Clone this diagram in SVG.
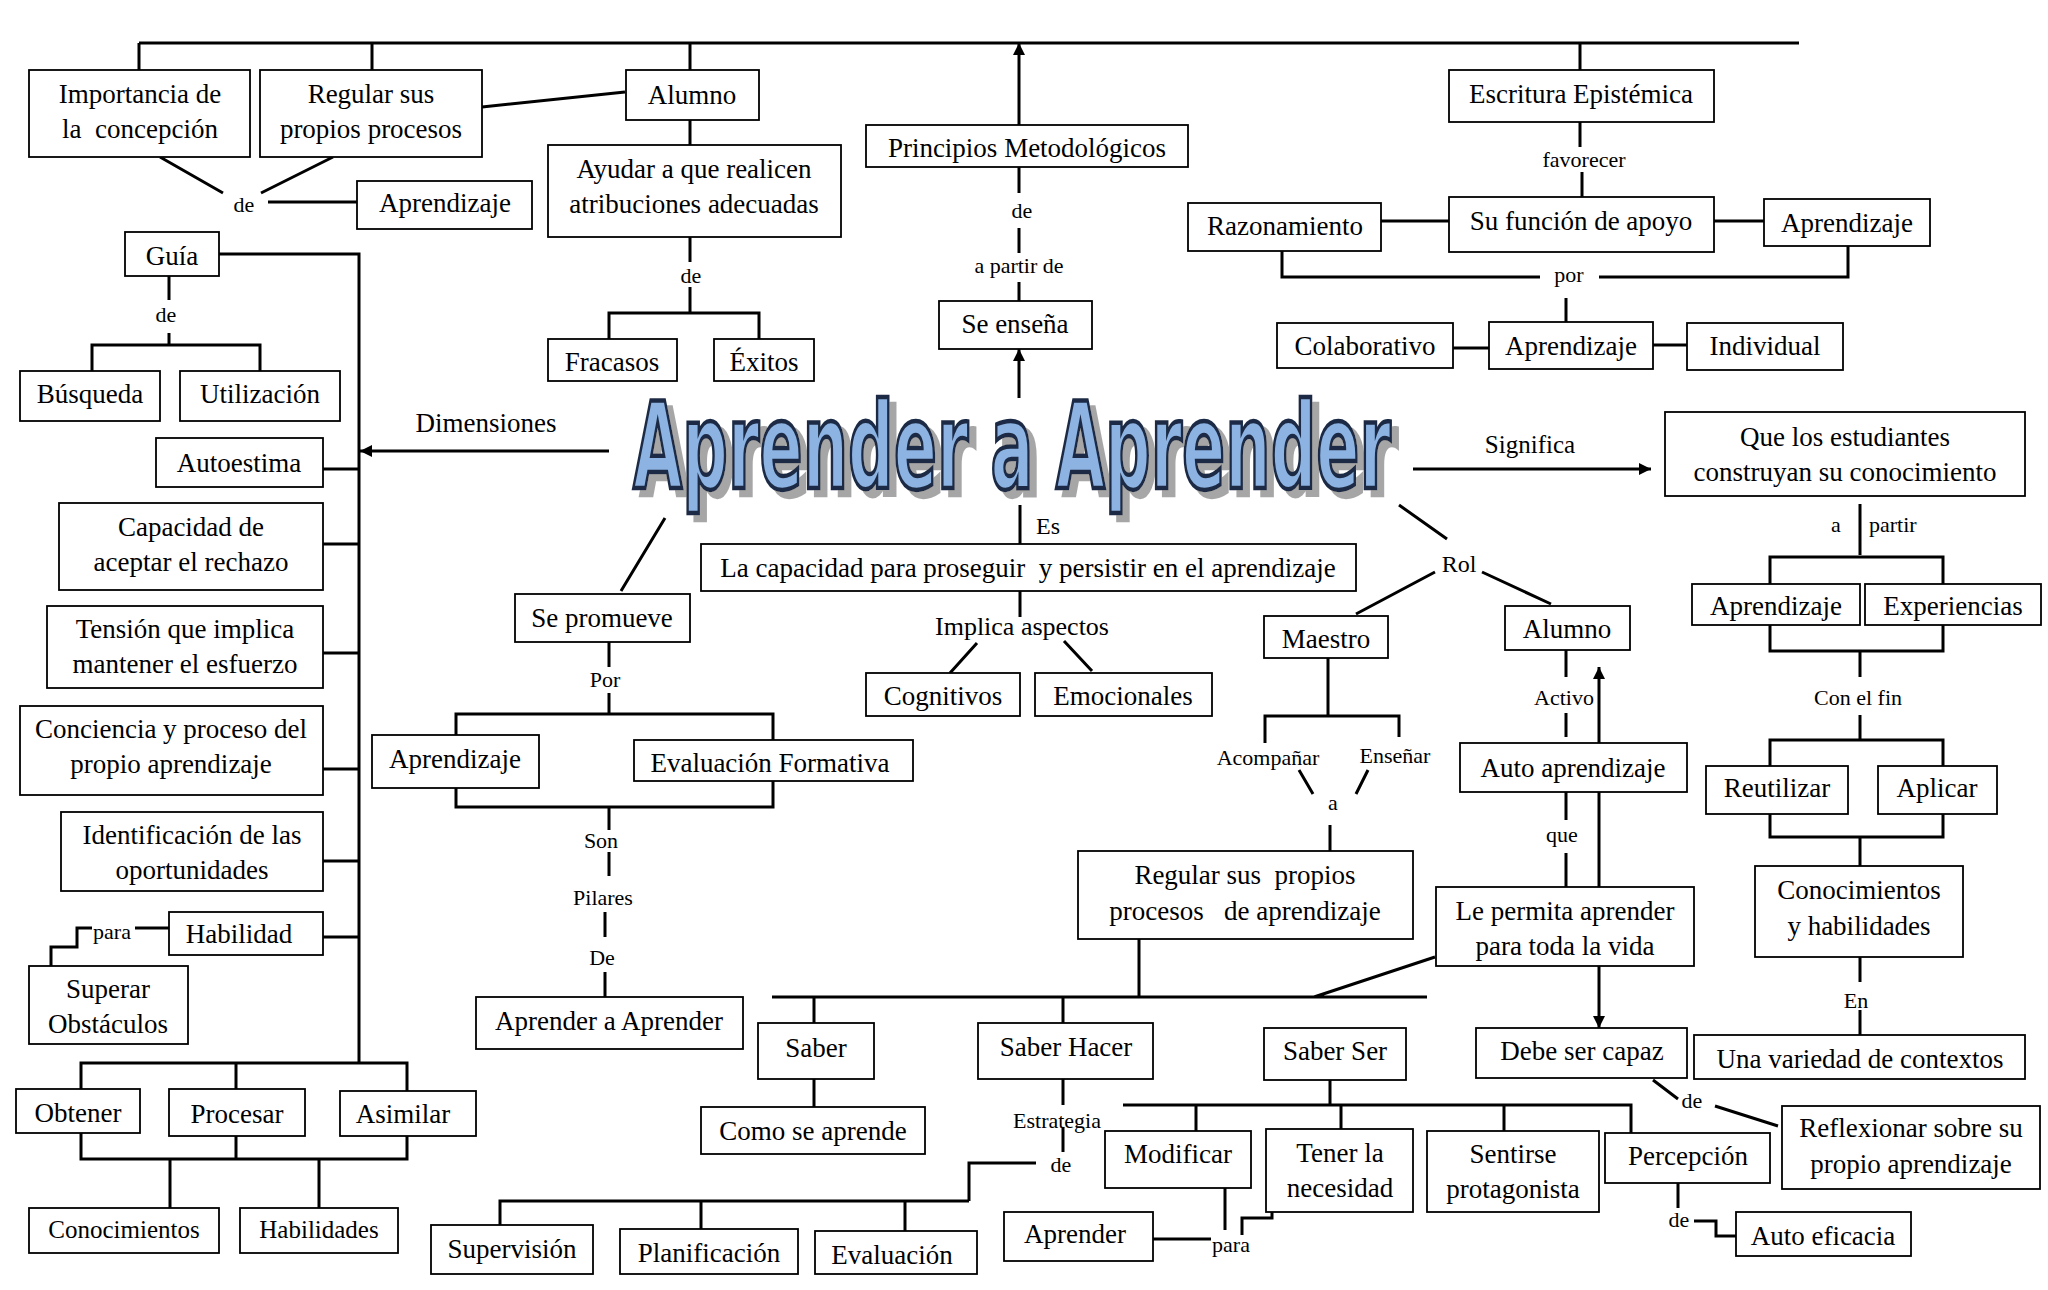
<svg xmlns="http://www.w3.org/2000/svg" width="2048" height="1290" viewBox="0 0 2048 1290">
<style>
.box{fill:#fff;stroke:#000;stroke-width:1.8}
.t{font-family:"Liberation Serif","Times New Roman",serif;font-size:27px;text-anchor:middle;fill:#000}
.s{font-size:25px}
.l{font-family:"Liberation Serif","Times New Roman",serif;font-size:22px;text-anchor:middle;fill:#000}
.c path{fill:none;stroke:#000;stroke-width:3}
.title{font-family:"DejaVu Sans","Liberation Sans",sans-serif;font-weight:bold;font-size:120px;fill:#8DB3E2;stroke:#1a2a44;stroke-width:4.5}
</style>
<defs>
<marker id="arr" viewBox="0 0 10 10" refX="10" refY="5" markerUnits="userSpaceOnUse" markerWidth="13" markerHeight="12" orient="auto">
<path d="M0,0 L10,5 L0,10 z" fill="#000"/>
</marker>
<filter id="shadow" x="-5%" y="-20%" width="115%" height="150%">
<feFlood flood-color="#A6A6A6" result="f"/>
<feComposite in="f" in2="SourceAlpha" operator="in" result="s"/>
<feOffset in="s" dx="7" dy="7" result="o"/>
<feMerge><feMergeNode in="o"/><feMergeNode in="SourceGraphic"/></feMerge>
</filter>
</defs>
<rect width="2048" height="1290" fill="#fff"/>

<g id="connectors" class="c">
<path d="M139,43 H1799 M139,43 V70 M372,43 V70 M690,43 V70 M1580,43 V70"/>
<path d="M1019,125 V43" marker-end="url(#arr)"/>
<path d="M482,107 L625,92"/>
<path d="M160,157 L223,193 M333,157 L261,193 M268,202 H357"/>
<path d="M690,120 V145 M690,237 V262 M690,287 V313 M609,339 V313 H759 V339"/>
<path d="M1019,167 V193 M1019,228 V253 M1019,282 V301"/>
<path d="M1019,398 V349" marker-end="url(#arr)"/>
<path d="M1580,122 V147 M1582,172 V197"/>
<path d="M1381,221 H1449 M1714,221 H1764"/>
<path d="M1282,251 V277 H1540 M1599,277 H1848 V246 M1566,298 V322"/>
<path d="M1453,348 H1489 M1653,345 H1687"/>
<path d="M219,254 H359 V1063 M81,1090 V1063 H407 V1091 M236,1063 V1089"/>
<path d="M169,276 V300 M169,333 V345 M92,371 V345 H260 V371"/>
<path d="M323,469 H359 M323,544 H359 M323,653 H359 M323,769 H359 M323,861 H359 M323,937 H359"/>
<path d="M169,928 H135 M92,928 H77 V947 H51 V966"/>
<path d="M81,1133 V1159 H407 V1136 M236,1136 V1159 M170,1159 V1208 M319,1159 V1208"/>
<path d="M609,451 H360" marker-end="url(#arr)"/>
<path d="M665,518 L621,591 M609,642 V667 M609,693 V714 M456,735 V714 H773 V740 M456,788 V807 H773 V781"/>
<path d="M609,807 V830 M609,852 V876 M605,912 V937 M605,972 V997"/>
<path d="M1020,505 V544 M1020,591 V617 M977,643 L950,673 M1064,641 L1092,671"/>
<path d="M1399,505 L1447,539 M1435,572 L1356,614 M1482,572 L1551,604"/>
<path d="M1328,658 V716 M1265,743 V716 H1399 V737 M1299,770 L1313,794 M1368,770 L1356,794 M1330,825 V851"/>
<path d="M1139,939 V997 M772,997 H1427 M814,997 V1023 M1063,997 V1023 M1435,957 L1314,997"/>
<path d="M814,1079 V1107"/>
<path d="M1063,1079 V1105 M1063,1127 V1152 M1036,1163 H969 V1201 M500,1225 V1201 H969 M701,1201 V1229 M905,1201 V1231"/>
<path d="M1330,1080 V1105 M1123,1105 H1631 V1133 M1196,1105 V1131 M1341,1105 V1129 M1504,1105 V1131"/>
<path d="M1153,1239 H1211 M1225,1188 V1230 M1272,1200 V1218 H1242 V1235"/>
<path d="M1678,1183 V1208 M1694,1221 H1716 V1236 H1736"/>
<path d="M1653,1080 L1678,1099 M1715,1106 L1778,1126"/>
<path d="M1599,966 V1028" marker-end="url(#arr)"/>
<path d="M1566,650 V677 M1566,713 V737 M1566,792 V820 M1566,853 V887"/>
<path d="M1599,887 V667" marker-end="url(#arr)"/>
<path d="M1413,469 H1651" marker-end="url(#arr)"/>
<path d="M1860,504 V555 M1770,584 V557 H1943 V584 M1770,625 V651 H1943 V625 M1860,651 V677 M1860,715 V740"/>
<path d="M1770,766 V740 H1943 V766 M1770,814 V837 H1943 V814 M1860,837 V866 M1860,957 V982 M1860,1010 V1035"/>
</g>

<g id="labels">
<text class="l" x="244" y="212">de</text>
<text class="l" x="166" y="322">de</text>
<text class="t" x="486" y="432">Dimensiones</text>
<text class="l" x="691" y="283">de</text>
<text class="l" x="1022" y="218">de</text>
<text class="l" x="1019" y="273">a partir de</text>
<text class="l" x="1584" y="167">favorecer</text>
<text class="l" x="1569" y="282">por</text>
<text class="t" x="1048" y="534" style="font-size:24px">Es</text>
<text class="t" x="1022" y="635" style="font-size:26px">Implica aspectos</text>
<text class="t" x="1530" y="453" style="font-size:25px">Significa</text>
<text class="t" x="1459" y="572" style="font-size:24px">Rol</text>
<text class="l" x="605" y="687">Por</text>
<text class="l" x="601" y="848">Son</text>
<text class="l" x="603" y="905">Pilares</text>
<text class="l" x="602" y="965">De</text>
<text class="l" x="112" y="939">para</text>
<text class="l" x="1268" y="765">Acompañar</text>
<text class="l" x="1395" y="763">Enseñar</text>
<text class="l" x="1333" y="810">a</text>
<text class="l" x="1564" y="705">Activo</text>
<text class="l" x="1562" y="842">que</text>
<text class="l" x="1836" y="532">a</text>
<text class="l" x="1869" y="532" style="text-anchor:start">partir</text>
<text class="l" x="1858" y="705">Con el fin</text>
<text class="l" x="1856" y="1008">En</text>
<text class="l" x="1057" y="1128">Estrategia</text>
<text class="l" x="1061" y="1172">de</text>
<text class="l" x="1231" y="1252">para</text>
<text class="l" x="1692" y="1108">de</text>
<text class="l" x="1679" y="1227">de</text>
</g>

<g id="title" filter="url(#shadow)">
<text class="title" transform="translate(633,488) scale(0.538,1)" x="0" y="0" textLength="1409" lengthAdjust="spacingAndGlyphs">Aprender a Aprender</text>
</g>

<g id="n-importancia"><rect class="box" x="29" y="70" width="221" height="87"/><text class="t" x="140" y="103">Importancia de</text><text class="t" x="140" y="138" xml:space="preserve">la  concepción</text></g>
<g id="n-regular1"><rect class="box" x="260" y="70" width="222" height="87"/><text class="t" x="371" y="103">Regular sus</text><text class="t" x="371" y="138">propios procesos</text></g>
<g id="n-alumno1"><rect class="box" x="626" y="70" width="133" height="50"/><text class="t" x="692" y="104">Alumno</text></g>
<g id="n-aprendizaje1"><rect class="box" x="357" y="181" width="175" height="48"/><text class="t" x="445" y="212">Aprendizaje</text></g>
<g id="n-ayudar"><rect class="box" x="548" y="145" width="293" height="92"/><text class="t" x="694" y="178">Ayudar a que realicen</text><text class="t" x="694" y="213">atribuciones adecuadas</text></g>
<g id="n-fracasos"><rect class="box" x="548" y="339" width="129" height="42"/><text class="t" x="612" y="371">Fracasos</text></g>
<g id="n-exitos"><rect class="box" x="714" y="339" width="100" height="42"/><text class="t" x="764" y="371">Éxitos</text></g>
<g id="n-principios"><rect class="box" x="866" y="125" width="322" height="42"/><text class="t" x="1027" y="157">Principios Metodológicos</text></g>
<g id="n-seensena"><rect class="box" x="939" y="301" width="153" height="48"/><text class="t" x="1015" y="333">Se enseña</text></g>
<g id="n-escritura"><rect class="box" x="1449" y="70" width="265" height="52"/><text class="t" x="1581" y="103">Escritura Epistémica</text></g>
<g id="n-sufuncion"><rect class="box" x="1449" y="197" width="265" height="55"/><text class="t" x="1581" y="230">Su función de apoyo</text></g>
<g id="n-razonamiento"><rect class="box" x="1188" y="203" width="193" height="48"/><text class="t" x="1285" y="235">Razonamiento</text></g>
<g id="n-aprendizaje2"><rect class="box" x="1764" y="199" width="166" height="47"/><text class="t" x="1847" y="232">Aprendizaje</text></g>
<g id="n-colaborativo"><rect class="box" x="1277" y="323" width="176" height="45"/><text class="t" x="1365" y="355">Colaborativo</text></g>
<g id="n-aprendizaje3"><rect class="box" x="1489" y="322" width="164" height="47"/><text class="t" x="1571" y="355">Aprendizaje</text></g>
<g id="n-individual"><rect class="box" x="1687" y="323" width="156" height="47"/><text class="t" x="1765" y="355">Individual</text></g>
<g id="n-guia"><rect class="box" x="125" y="232" width="94" height="44"/><text class="t" x="172" y="265">Guía</text></g>
<g id="n-busqueda"><rect class="box" x="20" y="371" width="140" height="50"/><text class="t" x="90" y="403">Búsqueda</text></g>
<g id="n-utilizacion"><rect class="box" x="180" y="371" width="160" height="50"/><text class="t" x="260" y="403">Utilización</text></g>
<g id="n-autoestima"><rect class="box" x="156" y="438" width="167" height="49"/><text class="t" x="239" y="472">Autoestima</text></g>
<g id="n-capacidad"><rect class="box" x="59" y="503" width="264" height="87"/><text class="t" x="191" y="536">Capacidad de</text><text class="t" x="191" y="571">aceptar el rechazo</text></g>
<g id="n-tension"><rect class="box" x="47" y="606" width="276" height="82"/><text class="t" x="185" y="638">Tensión que implica</text><text class="t" x="185" y="673">mantener el esfuerzo</text></g>
<g id="n-conciencia"><rect class="box" x="20" y="706" width="303" height="89"/><text class="t" x="171" y="738">Conciencia y proceso del</text><text class="t" x="171" y="773">propio aprendizaje</text></g>
<g id="n-identificacion"><rect class="box" x="61" y="812" width="262" height="79"/><text class="t" x="192" y="844">Identificación de las</text><text class="t" x="192" y="879">oportunidades</text></g>
<g id="n-habilidad"><rect class="box" x="169" y="912" width="154" height="43"/><text class="t" x="239" y="943">Habilidad</text></g>
<g id="n-superar"><rect class="box" x="29" y="966" width="159" height="78"/><text class="t" x="108" y="998">Superar</text><text class="t" x="108" y="1033">Obstáculos</text></g>
<g id="n-obtener"><rect class="box" x="16" y="1089" width="124" height="44"/><text class="t" x="78" y="1122">Obtener</text></g>
<g id="n-procesar"><rect class="box" x="169" y="1089" width="136" height="47"/><text class="t" x="237" y="1123">Procesar</text></g>
<g id="n-asimilar"><rect class="box" x="340" y="1091" width="136" height="45"/><text class="t" x="403" y="1123">Asimilar</text></g>
<g id="n-conocimientos1"><rect class="box" x="29" y="1208" width="190" height="45"/><text class="t s" x="124" y="1238">Conocimientos</text></g>
<g id="n-habilidades"><rect class="box" x="240" y="1208" width="158" height="45"/><text class="t s" x="319" y="1238">Habilidades</text></g>
<g id="n-sepromueve"><rect class="box" x="515" y="594" width="175" height="48"/><text class="t" x="602" y="627">Se promueve</text></g>
<g id="n-aprendizaje4"><rect class="box" x="372" y="735" width="167" height="53"/><text class="t" x="455" y="768">Aprendizaje</text></g>
<g id="n-evaluacionf"><rect class="box" x="634" y="740" width="279" height="41"/><text class="t" x="770" y="772">Evaluación Formativa</text></g>
<g id="n-aaa"><rect class="box" x="476" y="997" width="267" height="52"/><text class="t" x="609" y="1030">Aprender a Aprender</text></g>
<g id="n-lacapacidad"><rect class="box" x="701" y="544" width="655" height="47"/><text class="t" x="1028" y="577" xml:space="preserve">La capacidad para proseguir  y persistir en el aprendizaje</text></g>
<g id="n-cognitivos"><rect class="box" x="866" y="673" width="154" height="43"/><text class="t" x="943" y="705">Cognitivos</text></g>
<g id="n-emocionales"><rect class="box" x="1035" y="673" width="177" height="43"/><text class="t" x="1123" y="705">Emocionales</text></g>
<g id="n-maestro"><rect class="box" x="1264" y="616" width="124" height="42"/><text class="t" x="1326" y="648">Maestro</text></g>
<g id="n-alumno2"><rect class="box" x="1505" y="606" width="125" height="44"/><text class="t" x="1567" y="638">Alumno</text></g>
<g id="n-autoaprendizaje"><rect class="box" x="1460" y="743" width="227" height="49"/><text class="t" x="1573" y="777">Auto aprendizaje</text></g>
<g id="n-regular2"><rect class="box" x="1078" y="851" width="335" height="88"/><text class="t" x="1245" y="884" xml:space="preserve">Regular sus  propios</text><text class="t" x="1245" y="920" xml:space="preserve">procesos   de aprendizaje</text></g>
<g id="n-lepermita"><rect class="box" x="1436" y="887" width="258" height="79"/><text class="t" x="1565" y="920">Le permita aprender</text><text class="t" x="1565" y="955">para toda la vida</text></g>
<g id="n-que"><rect class="box" x="1665" y="412" width="360" height="84"/><text class="t" x="1845" y="446">Que los estudiantes</text><text class="t" x="1845" y="481">construyan su conocimiento</text></g>
<g id="n-aprendizaje5"><rect class="box" x="1692" y="584" width="168" height="41"/><text class="t" x="1776" y="615">Aprendizaje</text></g>
<g id="n-experiencias"><rect class="box" x="1865" y="584" width="176" height="41"/><text class="t" x="1953" y="615">Experiencias</text></g>
<g id="n-reutilizar"><rect class="box" x="1706" y="766" width="142" height="48"/><text class="t" x="1777" y="797">Reutilizar</text></g>
<g id="n-aplicar"><rect class="box" x="1878" y="766" width="119" height="48"/><text class="t" x="1937" y="797">Aplicar</text></g>
<g id="n-conocimientos2"><rect class="box" x="1755" y="866" width="208" height="91"/><text class="t" x="1859" y="899">Conocimientos</text><text class="t" x="1859" y="935">y habilidades</text></g>
<g id="n-variedad"><rect class="box" x="1694" y="1035" width="331" height="44"/><text class="t" x="1860" y="1068">Una variedad de contextos</text></g>
<g id="n-saber"><rect class="box" x="758" y="1023" width="116" height="56"/><text class="t" x="816" y="1057">Saber</text></g>
<g id="n-comoseaprende"><rect class="box" x="701" y="1107" width="224" height="47"/><text class="t" x="813" y="1140">Como se aprende</text></g>
<g id="n-saberhacer"><rect class="box" x="978" y="1023" width="175" height="56"/><text class="t" x="1066" y="1056">Saber Hacer</text></g>
<g id="n-saberser"><rect class="box" x="1264" y="1028" width="142" height="52"/><text class="t" x="1335" y="1060">Saber Ser</text></g>
<g id="n-debesercapaz"><rect class="box" x="1476" y="1028" width="211" height="50"/><text class="t" x="1582" y="1060">Debe ser capaz</text></g>
<g id="n-reflexionar"><rect class="box" x="1782" y="1106" width="258" height="83"/><text class="t" x="1911" y="1137">Reflexionar sobre su</text><text class="t" x="1911" y="1173">propio aprendizaje</text></g>
<g id="n-modificar"><rect class="box" x="1105" y="1131" width="146" height="57"/><text class="t" x="1178" y="1163">Modificar</text></g>
<g id="n-tener"><rect class="box" x="1266" y="1129" width="147" height="83"/><text class="t" x="1340" y="1162">Tener la</text><text class="t" x="1340" y="1197">necesidad</text></g>
<g id="n-sentirse"><rect class="box" x="1427" y="1131" width="172" height="81"/><text class="t" x="1513" y="1163">Sentirse</text><text class="t" x="1513" y="1198">protagonista</text></g>
<g id="n-percepcion"><rect class="box" x="1605" y="1133" width="165" height="50"/><text class="t" x="1688" y="1165">Percepción</text></g>
<g id="n-autoeficacia"><rect class="box" x="1736" y="1212" width="175" height="44"/><text class="t" x="1823" y="1245">Auto eficacia</text></g>
<g id="n-supervision"><rect class="box" x="431" y="1225" width="162" height="49"/><text class="t" x="512" y="1258">Supervisión</text></g>
<g id="n-planificacion"><rect class="box" x="620" y="1229" width="178" height="45"/><text class="t" x="709" y="1262">Planificación</text></g>
<g id="n-evaluacion"><rect class="box" x="815" y="1231" width="162" height="43"/><text class="t" x="892" y="1264">Evaluación</text></g>
<g id="n-aprender"><rect class="box" x="1004" y="1212" width="149" height="49"/><text class="t" x="1075" y="1243">Aprender</text></g>
</svg>
